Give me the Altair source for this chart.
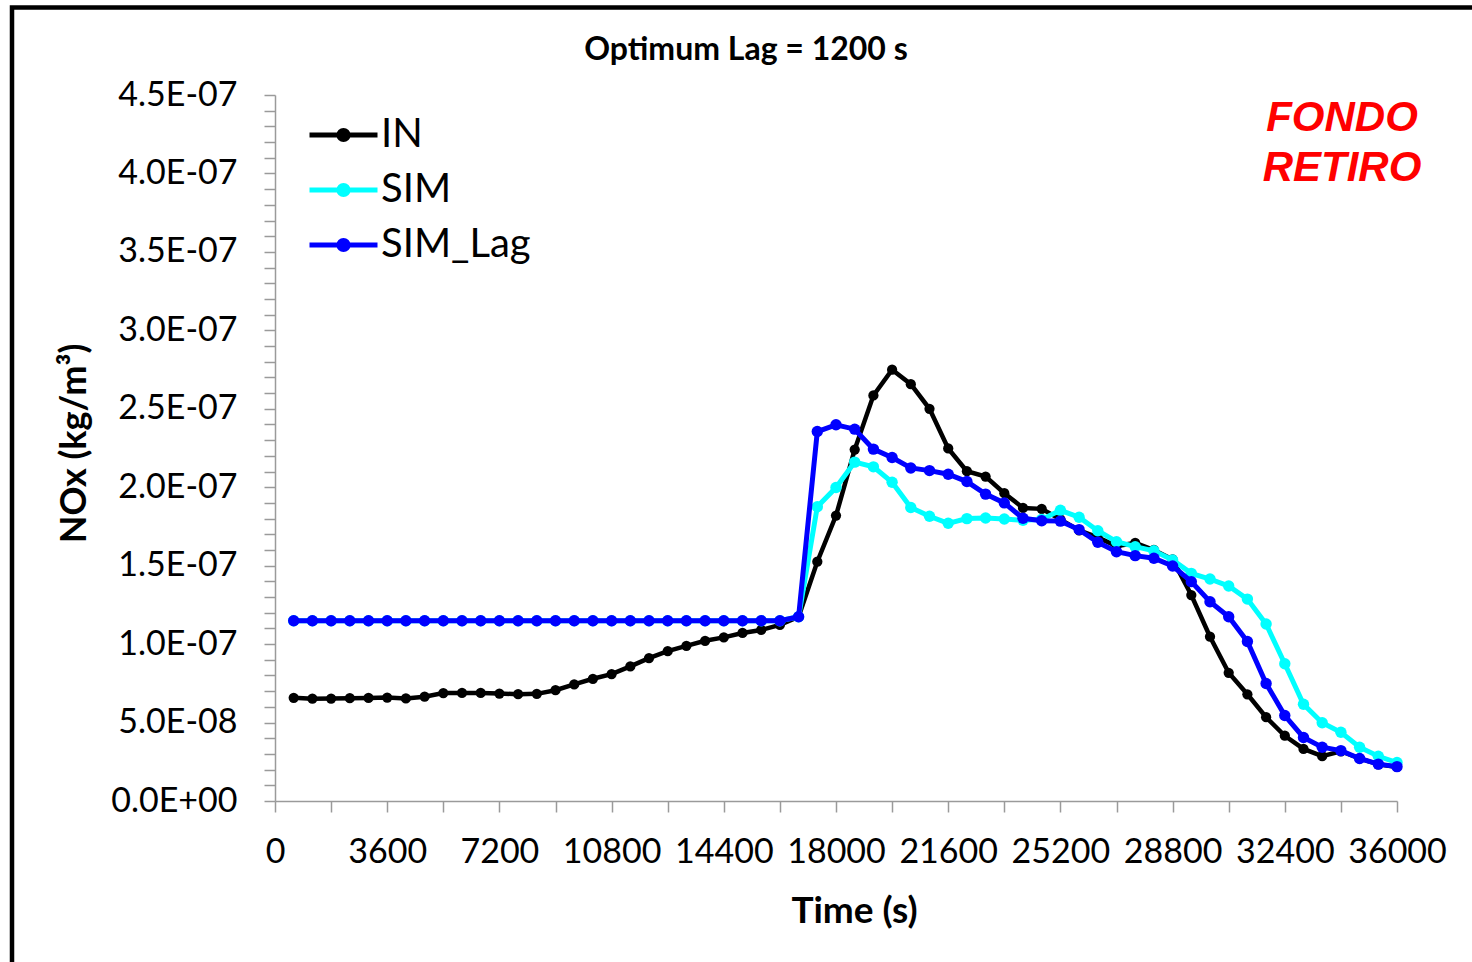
import altair as alt
import pandas as pd

# ---- data ----
time_s = [600 * k for k in range(1, 61)]

in_e8 = [6.58, 6.52, 6.53, 6.55, 6.57, 6.59, 6.54, 6.65, 6.88, 6.89,
         6.89, 6.85, 6.81, 6.83, 7.06, 7.43, 7.79, 8.09, 8.58, 9.11,
         9.55, 9.89, 10.21, 10.43, 10.71, 10.90, 11.22, 11.74, 15.25, 18.19,
         22.40, 25.85, 27.49, 26.57, 25.00, 22.47, 21.02, 20.68, 19.62, 18.68,
         18.62, 17.95, 17.25, 16.80, 16.25, 16.45, 16.00, 15.40, 13.13, 10.47,
         8.17, 6.80, 5.34, 4.16, 3.32, 2.86, 3.17, 2.71, 2.34, 2.17]

sim_e8 = [11.49] * 27 + [
         11.74, 18.76, 19.98,
         21.60, 21.30, 20.32, 18.71, 18.15, 17.70, 18.00, 18.04, 17.97, 17.89,
         17.95, 18.53, 18.09, 17.23, 16.53, 16.21, 15.95, 15.36, 14.51, 14.15,
         13.70, 12.87, 11.28, 8.75, 6.17, 4.99, 4.38, 3.43, 2.85, 2.45]

simlag_e8 = [11.49] * 27 + [
         11.74, 23.55, 23.98,
         23.70, 22.43, 21.89, 21.23, 21.06, 20.83, 20.36, 19.56, 19.00, 18.02,
         17.86, 17.84, 17.30, 16.49, 15.89, 15.64, 15.47, 14.98, 13.98, 12.70,
         11.74, 10.17, 7.49, 5.45, 4.05, 3.43, 3.21, 2.71, 2.35, 2.19]

series_names = ["IN", "SIM", "SIM_Lag"]
series_colors = ["#000000", "#00FFFF", "#0000FF"]
series_widths = [4.5, 5, 5]
series_sizes = [105, 130, 130]

x_ticks = list(range(0, 36001, 1800))
y_ticks = [round(i * 1e-8, 12) for i in range(46)]

title_text = ["Optimum Lag = 1200 s"]
title_t = [15112]
title_v = [4.723e-7]

site_text = ["FONDO", "RETIRO"]
site_t = [34235, 34235]
site_v = [4.27e-7, 3.95e-7]

# ---- tables ----
rows = []
for name, vals in zip(series_names, [in_e8, sim_e8, simlag_e8]):
    for t, v in zip(time_s, vals):
        rows.append({"time": t, "value": v * 1e-8, "series": name})
df = pd.DataFrame(rows)

df_title = pd.DataFrame({"text": title_text, "t": title_t, "v": title_v})
df_site = pd.DataFrame({"text": site_text, "t": site_t, "v": site_v})

xscale = alt.Scale(domain=[0, 36000], nice=False, zero=False)
yscale = alt.Scale(domain=[0, 4.5e-7], nice=False)

y_label_expr = (
    "round(datum.value*1e9) % 50 == 0 ? "
    "(datum.value == 0 ? '0.0E+00' : (datum.value < 9e-8 ? "
    "format(datum.value*1e8, '.1f') + 'E-08' : format(datum.value*1e7, '.1f') + 'E-07')) : ''"
)

x_enc = alt.X(
    "time:Q", scale=xscale,
    axis=alt.Axis(
        title="Time (s)", values=x_ticks, tickCount=40, format="d",
        labelExpr="datum.value % 3600 == 0 ? datum.label : ''",
        labelFlush=False, labelOverlap=False, labelPadding=23,
        titleX=579, titleY=121, titleBaseline="alphabetic", titleAnchor="start",
        titleAlign="center",
        titleFont="Lato", titleFontSize=37, titleFontWeight="bold",
    ),
)
y_enc = alt.Y(
    "value:Q", scale=yscale,
    axis=alt.Axis(
        title="NOx (kg/m³)", values=y_ticks, tickCount=100, labelExpr=y_label_expr,
        labelOverlap=False, labelPadding=27, labelFlush=False,
        titleAngle=270, titleX=-190, titleY=348, titleBaseline="alphabetic",
        titleAlign="center", titleAnchor="start",
        titleFont="Lato", titleFontSize=36, titleFontWeight="bold",
    ),
)

sym_path = ("M-2,0L2,0"
            "M0.27,0A0.27,0.27,0,1,1,-0.27,0A0.27,0.27,0,1,1,0.27,0"
            "M0.13,0A0.13,0.13,0,1,1,-0.13,0A0.13,0.13,0,1,1,0.13,0")

color_enc = alt.Color(
    "series:N",
    scale=alt.Scale(domain=series_names, range=series_colors),
    legend=alt.Legend(
        title=None, orient="none", legendX=48.5, legendY=20,
        symbolType=sym_path, symbolSize=1156, symbolStrokeWidth=5,
        symbolOpacity=1, labelFont="Lato", labelFontSize=40, labelColor="black",
        labelOffset=17.5, rowPadding=15, padding=0, labelLimit=400,
    ),
)

layers = []
for name, w, sz in zip(series_names, series_widths, series_sizes):
    base = alt.Chart(df).transform_filter(alt.datum.series == name)
    layers.append(base.mark_line(strokeWidth=w).encode(x=x_enc, y=y_enc, color=color_enc))
    layers.append(base.mark_point(filled=True, size=sz, opacity=1).encode(x=x_enc, y=y_enc, color=color_enc))

title_layer = alt.Chart(df_title).mark_text(
    font="Lato", fontSize=32, fontWeight="bold", color="black",
    align="center", baseline="alphabetic",
).encode(x=alt.X("t:Q", scale=xscale), y=alt.Y("v:Q", scale=yscale), text="text:N")

site_layer = alt.Chart(df_site).mark_text(
    font="Liberation Sans", fontSize=42, fontWeight="bold", fontStyle="italic",
    color="#FF0000", align="center", baseline="alphabetic",
).encode(x=alt.X("t:Q", scale=xscale), y=alt.Y("v:Q", scale=yscale), text="text:N")

frame = alt.Chart(pd.DataFrame({"a": [0]})).mark_rect(
    filled=False, stroke="black", strokeWidth=4.5, fill=None
).encode(x=alt.value(-263), x2=alt.value(1400), y=alt.value(-87.5), y2=alt.value(1000))

chart = alt.layer(frame, *layers, title_layer, site_layer).properties(
    width=1122, height=706,
    padding={"left": 275, "top": 95, "right": 75, "bottom": 161},
    autosize=alt.AutoSizeParams(type="none"),
    background="white",
).configure_view(strokeWidth=0).configure_axis(
    grid=False, domainColor="#9A9A9A", domainWidth=1.5, tickColor="#9A9A9A",
    tickWidth=1.5, tickSize=11, labelFont="Lato", labelFontSize=34, labelColor="black",
    titleColor="black",
)

chart.save("out.html", embed_options={"renderer": "svg", "actions": False})
